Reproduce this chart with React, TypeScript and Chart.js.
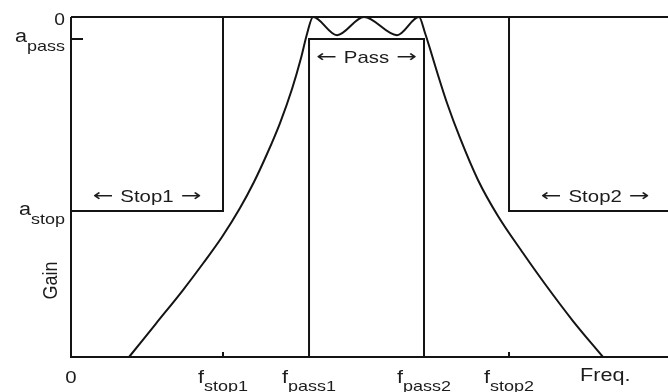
import React, { useEffect, useRef } from "react";
import { Chart, registerables } from "chart.js";

Chart.register(...registerables);

// Axis extents (frequency in arbitrary units, gain in dB)
const FREQ_MAX = 10;
const GAIN_MIN = -60;

// Band edges of the specification
const F_STOP1 = 2.546;
const F_PASS1 = 3.987;
const F_PASS2 = 5.913;
const F_STOP2 = 7.337;
const A_PASS = -3.88;
const A_STOP = -34.25;

// Position of the frequency axis caption
const F_CAPTION = 8.95;

// Magnitude response of the band-pass filter
const responseFreq = [
  0.972, 1.424, 1.876, 2.211, 2.529, 2.831, 3.065, 3.283, 3.501, 3.702, 3.853,
  3.953, 4.054, 4.456, 4.908, 5.461, 5.829, 5.93, 6.03, 6.147, 6.298, 6.516,
  6.817, 7.152, 7.571, 7.94, 8.409, 8.911,
];
const responseGain = [
  -60, -54.09, -48.18, -43.5, -38.82, -33.71, -29.12, -24.18, -18.71, -12.71,
  -7.24, -3.0, 0, -3.2, 0, -3.2, 0, -2.82, -6.18, -10.24, -15.18, -21.35,
  -28.76, -35.12, -41.65, -47.12, -53.65, -60,
];

// Tick labels: [main text, subscript, position]
const freqLabels: [string, string, number][] = [
  ["0", "", 0],
  ["f", "stop1", F_STOP1],
  ["f", "pass1", F_PASS1],
  ["f", "pass2", F_PASS2],
  ["f", "stop2", F_STOP2],
];
const gainLabels: [string, string, number][] = [
  ["0", "", 0],
  ["a", "pass", A_PASS],
  ["a", "stop", A_STOP],
];
const bandNames = ["Stop1", "Pass", "Stop2"];
const bandCenters = [F_STOP1 / 2, (F_PASS1 + F_PASS2) / 2, 8.78];

const INK = "#141414";
const TEXT = "#1c1c1c";
const FONT = '"Liberation Sans", Arial, Helvetica, sans-serif';
const ARROW_FONT = '"DejaVu Sans", sans-serif';
const SX = 1.2; // horizontal text stretch
const ARROW_SX = 1.45; // arrows are drawn a little longer

type Align = "left" | "center" | "right";

function textWidth(ctx: CanvasRenderingContext2D, text: string, size: number, family = FONT, sx = SX) {
  ctx.font = `${size}px ${family}`;
  return ctx.measureText(text).width * sx;
}

function drawText(
  ctx: CanvasRenderingContext2D,
  text: string,
  left: number,
  baseline: number,
  size: number,
  family = FONT,
  sx = SX
) {
  ctx.save();
  ctx.font = `${size}px ${family}`;
  ctx.fillStyle = TEXT;
  ctx.textAlign = "left";
  ctx.textBaseline = "alphabetic";
  ctx.translate(left, baseline);
  ctx.scale(sx, 1);
  ctx.fillText(text, 0, 0);
  ctx.restore();
}

function drawSubLabel(
  ctx: CanvasRenderingContext2D,
  main: string,
  sub: string,
  x: number,
  baseline: number,
  align: Align,
  mainSize: number,
  subSize: number,
  drop: number
) {
  const wMain = textWidth(ctx, main, mainSize);
  const wSub = sub ? textWidth(ctx, sub, subSize) : 0;
  const total = wMain + wSub;
  const left = align === "left" ? x : align === "center" ? x - total / 2 : x - total;
  drawText(ctx, main, left, baseline, mainSize);
  if (sub) drawText(ctx, sub, left + wMain, baseline + drop, subSize);
}

// "← name →" caption, centred on cx
function drawBandCaption(ctx: CanvasRenderingContext2D, name: string, cx: number, baseline: number) {
  const size = 17;
  const gap = 7;
  const wArrow = textWidth(ctx, "\u2190", size, ARROW_FONT, ARROW_SX);
  const wName = textWidth(ctx, name, size);
  const total = wArrow * 2 + gap * 2 + wName;
  let left = cx - total / 2;
  drawText(ctx, "\u2190", left, baseline - 1, size, ARROW_FONT, ARROW_SX);
  left += wArrow + gap;
  drawText(ctx, name, left, baseline, size);
  left += wName + gap;
  drawText(ctx, "\u2192", left, baseline - 1, size, ARROW_FONT, ARROW_SX);
}

const annotations = {
  id: "filterAnnotations",
  afterDatasetsDraw(chart: Chart) {
    const { ctx, chartArea } = chart;
    const xs = chart.scales.x;
    const ys = chart.scales.y;

    // inward tick marks
    ctx.save();
    ctx.strokeStyle = INK;
    ctx.lineWidth = 2;
    ctx.beginPath();
    const yp = ys.getPixelForValue(A_PASS);
    ctx.moveTo(chartArea.left, yp);
    ctx.lineTo(chartArea.left + 12, yp);
    for (const f of [F_STOP1, F_STOP2]) {
      const xp = xs.getPixelForValue(f);
      ctx.moveTo(xp, chartArea.bottom);
      ctx.lineTo(xp, chartArea.bottom - 5);
    }
    ctx.stroke();
    ctx.restore();

    // frequency tick labels
    for (const [main, sub, f] of freqLabels) {
      const size = sub ? 18 : 17;
      drawSubLabel(ctx, main, sub, xs.getPixelForValue(f), chartArea.bottom + 26, "center", size, 15, 8);
    }
    drawText(
      ctx,
      "Freq.",
      xs.getPixelForValue(F_CAPTION) - textWidth(ctx, "Freq.", 18) / 2,
      chartArea.bottom + 24,
      18
    );

    // gain tick labels
    for (const [main, sub, g] of gainLabels) {
      const size = sub ? 18 : 16;
      drawSubLabel(ctx, main, sub, chartArea.left - 6, ys.getPixelForValue(g) + (sub ? 3.5 : 7.5), "right", size, 15, 9);
    }

    // vertical axis title
    ctx.save();
    ctx.font = `18px ${FONT}`;
    ctx.fillStyle = TEXT;
    ctx.textAlign = "center";
    ctx.textBaseline = "alphabetic";
    ctx.translate(chartArea.left - 14, ys.getPixelForValue(-46.5));
    ctx.scale(1.1, 1);
    ctx.rotate(-Math.PI / 2);
    ctx.fillText("Gain", 0, 0);
    ctx.restore();

    // band captions
    const bandBaselines = [
      ys.getPixelForValue(A_STOP) - 9,
      ys.getPixelForValue(A_PASS) + 24,
      ys.getPixelForValue(A_STOP) - 9,
    ];
    bandNames.forEach((name, i) => {
      drawBandCaption(ctx, name, xs.getPixelForValue(bandCenters[i]), bandBaselines[i]);
    });
  },
};

const pts = (xs: number[], ys: number[]) => xs.map((x, i) => ({ x, y: ys[i] }));

export default function App() {
  const ref = useRef<HTMLCanvasElement>(null);

  useEffect(() => {
    const canvas = ref.current;
    if (!canvas) return;
    const lineStyle = {
      showLine: true,
      borderColor: INK,
      borderWidth: 2,
      pointRadius: 0,
      pointHoverRadius: 0,
      tension: 0,
      fill: false,
      clip: false as const,
      borderJoinStyle: "miter" as const,
    };
    const chart = new Chart(canvas, {
      type: "scatter",
      data: {
        datasets: [
          { ...lineStyle, label: "axes", data: pts([0, 0, FREQ_MAX], [0, GAIN_MIN, GAIN_MIN]) },
          { ...lineStyle, label: "0 dB", data: pts([0, FREQ_MAX], [0, 0]) },
          { ...lineStyle, label: "Stop1", data: pts([0, F_STOP1, F_STOP1], [A_STOP, A_STOP, 0]) },
          {
            ...lineStyle,
            label: "Pass",
            data: pts([F_PASS1, F_PASS1, F_PASS2, F_PASS2], [GAIN_MIN, A_PASS, A_PASS, GAIN_MIN]),
          },
          { ...lineStyle, label: "Stop2", data: pts([FREQ_MAX, F_STOP2, F_STOP2], [A_STOP, A_STOP, 0]) },
          {
            ...lineStyle,
            label: "Response",
            data: pts(responseFreq, responseGain),
            cubicInterpolationMode: "monotone" as const,
            borderJoinStyle: "round" as const,
          },
        ],
      },
      options: {
        responsive: false,
        animation: false,
        devicePixelRatio: 1,
        events: [],
        layout: { padding: { left: 71, top: 17, right: 0, bottom: 35 } },
        plugins: { legend: { display: false }, tooltip: { enabled: false }, title: { display: false } },
        scales: {
          x: { type: "linear", display: false, min: 0, max: FREQ_MAX },
          y: { type: "linear", display: false, min: GAIN_MIN, max: 0 },
        },
      },
      plugins: [annotations],
    });
    return () => chart.destroy();
  }, []);

  return (
    <div
      style={{
        position: "fixed",
        left: 0,
        top: 0,
        width: 668,
        height: 392,
        overflow: "hidden",
        background: "#ffffff",
      }}
    >
      <canvas ref={ref} width={668} height={392} style={{ display: "block", width: 668, height: 392 }} />
    </div>
  );
}
